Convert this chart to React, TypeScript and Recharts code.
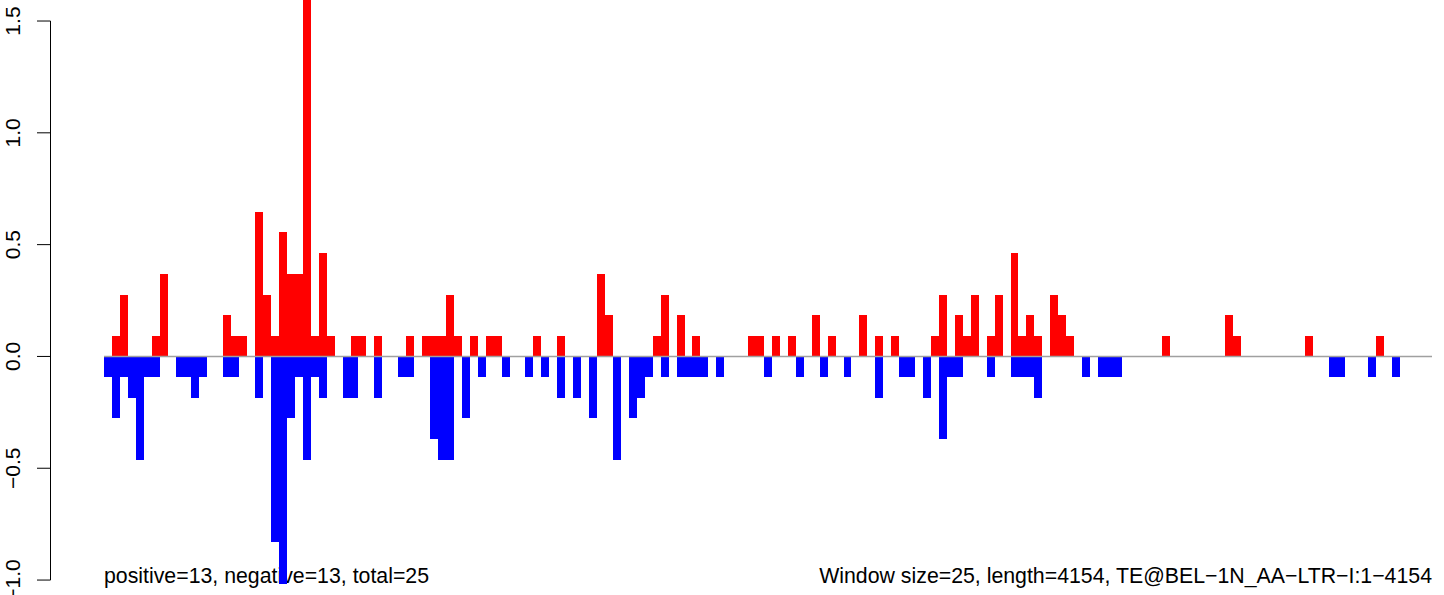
import React from "react";
import { BarChart, Bar, XAxis, YAxis, ReferenceLine } from "recharts";

// one window = 25 bp, 167 windows along the element
const POSITIVE = [
  0, 0.092, 0.277, 0, 0, 0, 0.092, 0.37, 0, 0,
  0, 0, 0, 0, 0, 0.185, 0.092, 0.092, 0, 0.647,
  0.277, 0.092, 0.555, 0.37, 0.37, 1.66, 0.092, 0.462, 0.092, 0,
  0, 0.092, 0.092, 0, 0.092, 0, 0, 0, 0.092, 0,
  0.092, 0.092, 0.092, 0.277, 0.092, 0, 0.092, 0, 0.092, 0.092,
  0, 0, 0, 0, 0.092, 0, 0, 0.092, 0, 0,
  0, 0, 0.37, 0.185, 0, 0, 0, 0, 0, 0.092,
  0.277, 0, 0.185, 0, 0.092, 0, 0, 0, 0, 0,
  0, 0.092, 0.092, 0, 0.092, 0, 0.092, 0, 0, 0.185,
  0, 0.092, 0, 0, 0, 0.185, 0, 0.092, 0, 0.092,
  0, 0, 0, 0, 0.092, 0.277, 0, 0.185, 0.092, 0.277,
  0, 0.092, 0.277, 0, 0.462, 0.092, 0.185, 0.092, 0, 0.277,
  0.185, 0.092, 0, 0, 0, 0, 0, 0, 0, 0,
  0, 0, 0, 0.092, 0, 0, 0, 0, 0, 0,
  0, 0.185, 0.092, 0, 0, 0, 0, 0, 0, 0,
  0, 0.092, 0, 0, 0, 0, 0, 0, 0, 0,
  0.092, 0, 0, 0, 0, 0, 0,
];

const NEGATIVE = [
  -0.092, -0.277, -0.092, -0.185, -0.462, -0.092, -0.092, 0, 0, -0.092,
  -0.092, -0.185, -0.092, 0, 0, -0.092, -0.092, 0, 0, -0.185,
  0, -0.832, -1.017, -0.277, -0.092, -0.462, -0.092, -0.185, 0, 0,
  -0.185, -0.185, 0, 0, -0.185, 0, 0, -0.092, -0.092, 0,
  0, -0.37, -0.462, -0.462, 0, -0.277, 0, -0.092, 0, 0,
  -0.092, 0, 0, -0.092, 0, -0.092, 0, -0.185, 0, -0.185,
  0, -0.277, 0, 0, -0.462, 0, -0.277, -0.185, -0.092, 0,
  -0.092, 0, -0.092, -0.092, -0.092, -0.092, 0, -0.092, 0, 0,
  0, 0, 0, -0.092, 0, 0, 0, -0.092, 0, 0,
  -0.092, 0, 0, -0.092, 0, 0, 0, -0.185, 0, 0,
  -0.092, -0.092, 0, -0.185, 0, -0.37, -0.092, -0.092, 0, 0,
  0, -0.092, 0, 0, -0.092, -0.092, -0.092, -0.185, 0, 0,
  0, 0, 0, -0.092, 0, -0.092, -0.092, -0.092, 0, 0,
  0, 0, 0, 0, 0, 0, 0, 0, 0, 0,
  0, 0, 0, 0, 0, 0, 0, 0, 0, 0,
  0, 0, 0, 0, -0.092, -0.092, 0, 0, 0, -0.092,
  0, 0, -0.092, 0, 0, 0, 0,
];

const Y_TICKS = [-1, -0.5, 0, 0.5, 1, 1.5];
const Y_LABELS = ["\u22121.0", "\u22120.5", "0.0", "0.5", "1.0", "1.5"];

const LEFT_NOTE = "positive=13, negative=13, total=25";
const RIGHT_NOTE = "Window size=25, length=4154, TE@BEL\u22121N_AA\u2212LTR\u2212I:1\u22124154";

const W = 1444;
const H = 595;
const Y_MIN = -1.04;
const Y_MAX = 1.594;
const MARGIN = { top: 0, right: 12, bottom: 6, left: 0 };
const Y_AXIS_W = 104;
const PX_PER_UNIT = (H - MARGIN.top - MARGIN.bottom) / (Y_MAX - Y_MIN);
const BAND = (W - MARGIN.right - Y_AXIS_W) / POSITIVE.length;
const AXIS_X = 50.5;
const FONT = "'Liberation Sans', Arial, Helvetica, sans-serif";

const rows = POSITIVE.map((p, i) => ({ idx: i, pos: p, neg: NEGATIVE[i] }));

// recharts truncates the bar width to whole pixels; fill the whole band instead
function FullBar(props: any) {
  const { x, y, height, fill } = props;
  if (!height) return null;
  const top = Math.min(y, y + height);
  return <rect x={x} y={top} width={BAND} height={Math.abs(height)} fill={fill} shapeRendering="crispEdges" />;
}

function YTick(props: any) {
  const { y, payload } = props;
  const k = Y_TICKS.indexOf(payload.value);
  const lx = 20.5;
  return (
    <g>
      <line x1={37} x2={AXIS_X} y1={y} y2={y} stroke="#000" strokeWidth={1} />
      {payload.value === 1.5 && (
        <line x1={AXIS_X} x2={AXIS_X} y1={y} y2={y + 2.5 * PX_PER_UNIT} stroke="#000" strokeWidth={1} />
      )}
      <text
        x={lx}
        y={y}
        transform={`rotate(-90, ${lx}, ${y})`}
        textAnchor="middle"
        fontSize={21}
        fontFamily={FONT}
        fill="#000"
      >
        {Y_LABELS[k]}
      </text>
    </g>
  );
}

export default function App() {
  return (
    <div style={{ position: "absolute", left: 0, top: 0, width: W, height: H, background: "#fff" }}>
      <svg width={W} height={H} style={{ position: "absolute", left: 0, top: 0 }}>
        <text x={104} y={583} fontSize={21.3} fontFamily={FONT} fill="#000">
          {LEFT_NOTE}
        </text>
        <text x={1432} y={583} fontSize={21.3} fontFamily={FONT} fill="#000" textAnchor="end">
          {RIGHT_NOTE}
        </text>
      </svg>
      <div style={{ position: "absolute", left: 0, top: 0 }}>
        <BarChart
          width={W}
          height={H}
          data={rows}
          margin={MARGIN}
          stackOffset="sign"
          barCategoryGap={0}
          barGap={0}
        >
          <XAxis dataKey="idx" hide />
          <YAxis
            width={Y_AXIS_W}
            domain={[Y_MIN, Y_MAX]}
            allowDataOverflow
            ticks={Y_TICKS}
            interval={0}
            axisLine={false}
            tickLine={false}
            tick={<YTick />}
          />
          <ReferenceLine y={0} stroke="#a0a0a0" strokeWidth={1.5} />
          <Bar dataKey="pos" stackId="s" fill="#ff0000" barSize={8} shape={<FullBar />} isAnimationActive={false} />
          <Bar dataKey="neg" stackId="s" fill="#0000ff" barSize={8} shape={<FullBar />} isAnimationActive={false} />
        </BarChart>
      </div>
    </div>
  );
}
